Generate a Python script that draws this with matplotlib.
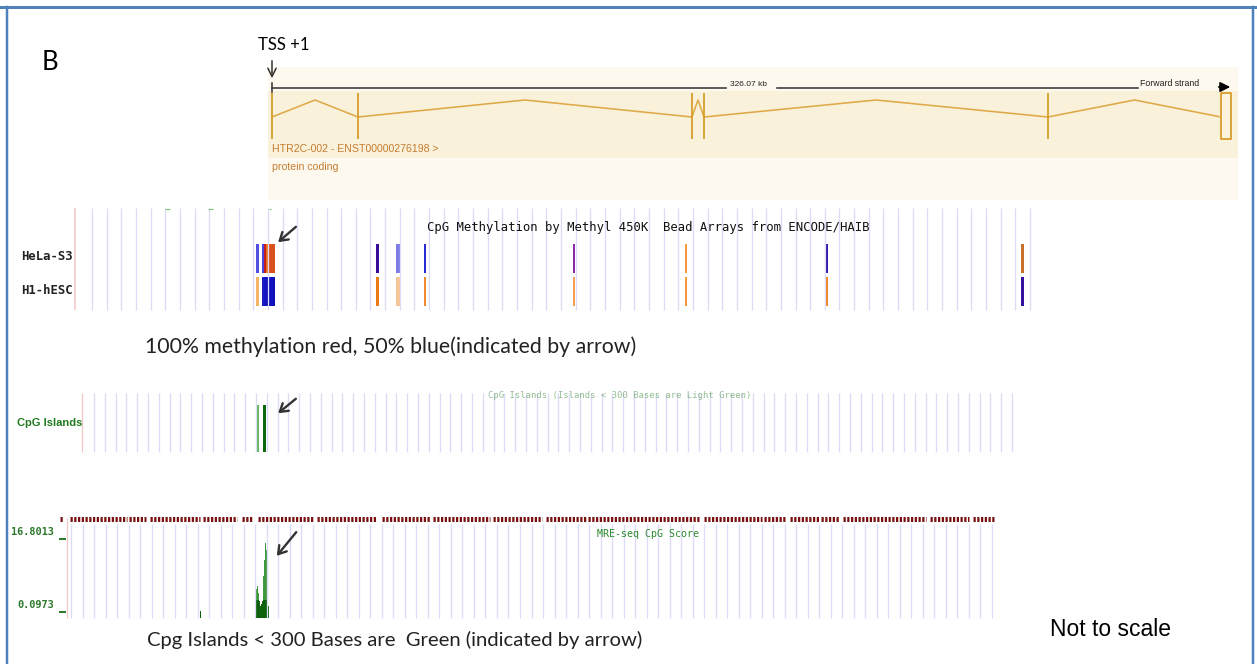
import numpy as np
import matplotlib
matplotlib.use("Agg")
import matplotlib.pyplot as plt

W, H = 1257, 664
PX = 0.72          # points per pixel at dpi=100

CAPTION_FONT = ["Lato", "DejaVu Sans"]
MONO_FONT = ["DejaVu Sans Mono"]
NARROW_FONT = ["Liberation Sans Narrow", "Liberation Sans"]

# ── Ensembl gene model (pixel positions along the panel) ─────────────────────
exon_x = [272, 358, 692, 704, 1048]
last_exon = [1221, 1231]
intron_start = [272, 358, 692, 704, 1048]
intron_end = [358, 692, 704, 1048, 1221]
scale_label = "326.07 kb"
gene_label = "HTR2C-002 - ENST00000276198 >"
biotype = "protein coding"

# ── CpG methylation (450K) features: left edge, width, colour per cell line ──
meth_left = [256, 261.5, 263.5, 266, 269, 376, 395.5, 424, 573, 685, 825, 1021]
meth_width = [2.5, 2, 2.5, 3, 6, 3, 4, 1.5, 2, 1.5, 2.5, 3]
hela_colors = ["#5050e0", "#4848e0", "#c81e1e", "#e8701c", "#d9501c", "#3a0c9a",
               "#7c7ce6", "#2a2ad2", "#8a2aa8", "#f49a3c", "#3414b0", "#c8702a"]
h1_colors = ["#f6b466", "#1c1cc6", "#1414c0", "#1010bc", "#1010bc", "#ee7a14",
             "#f6c496", "#f08a30", "#f4a050", "#f49a3c", "#ee8420", "#34109e"]
cell_lines = ["HeLa-S3", "H1-hESC"]

# ── CpG islands ──────────────────────────────────────────────────────────────
island_x = [257, 263]
island_w = [2, 2.5]
island_colors = ["#5cb85c", "#0b6a0b"]

# ── MRE-seq CpG score ────────────────────────────────────────────────────────
mre_x = [200, 256, 257, 258, 259, 260, 261, 262, 263, 264, 265, 266, 267, 268, 405]
mre_score = [0.4, 5.4, 6.1, 4.5, 2.6, 1.5, 1.9, 2.6, 8.4, 11.9, 15.9, 14.2, 9.6, 1.5, 0.5]
mre_ticks = ["16.8013", "0.0973"]
mre_tick_vals = [16.8013, 0.0973]
# dense dark-red marks along the top of the MRE track (start, end)
red_runs = [(60, 63), (70, 127), (129, 146), (150, 200), (203, 237), (242, 253),
            (258, 313), (317, 377), (382, 430), (433, 490), (493, 542), (546, 586),
            (588, 700), (704, 762), (764, 785), (790, 819), (821, 839), (843, 926),
            (930, 969), (973, 995)]


def score_y(v):
    # 16.8013 sits at y=539, 0.0973 at y=612
    return 612 - (np.asarray(v) - 0.0973) * (612 - 539) / (16.8013 - 0.0973)


fig = plt.figure(figsize=(W / 100, H / 100), dpi=100)
ax = fig.add_axes([0, 0, 1, 1])
ax.set_xlim(0, W)
ax.set_ylim(H, 0)
ax.axis("off")

# frame of the figure panel
ax.plot([0, W], [6.5, 6.5], color="#4f81bd", lw=3 * PX)
ax.plot([7, 7], [6.5, H], color="#4f81bd", lw=2.5 * PX)
ax.plot([1253, 1253], [6.5, H], color="#4f81bd", lw=2.5 * PX)

ax.text(50, 63, "B", fontsize=18.5, family=CAPTION_FONT, ha="center", va="center")
ax.text(258, 45, "TSS +1", fontsize=12, family=CAPTION_FONT, ha="left", va="center")
ax.annotate("", xy=(272, 81), xytext=(272, 58),
            arrowprops=dict(arrowstyle="->,head_length=0.6,head_width=0.3",
                            color="#333333", lw=1.1))

# Ensembl panel background
ax.fill_between([268, 1238], 67, 200, color="#fdf9ee", lw=0)
ax.fill_between([268, 1238], 91, 158, color="#faf1da", lw=0)

# scale bar
ax.plot([272, 726], [88, 88], color="#3a3a3a", lw=1.6 * PX)
ax.plot([272, 272], [83, 92], color="#3a3a3a", lw=1.6 * PX)
ax.text(749, 84, scale_label, fontsize=6, family=NARROW_FONT, ha="center", va="center",
        color="#222222")
ax.plot([777, 1138], [88, 88], color="#3a3a3a", lw=1.6 * PX)
ax.text(1140, 84, "Forward strand", fontsize=6.3, family=NARROW_FONT, ha="left",
        va="center", color="#222222")
ax.annotate("", xy=(1233, 87), xytext=(1216, 87),
            arrowprops=dict(arrowstyle="-|>,head_length=0.6,head_width=0.3",
                            color="black", lw=1.2))

# gene model
exon_col = "#d99c2b"
for x0, x1 in zip(intron_start, intron_end):
    ax.plot([x0, (x0 + x1) / 2, x1], [117, 100, 117], color="#deaa48", lw=1.6 * PX)
ax.vlines(exon_x, 93, 139, color=exon_col, lw=1.8 * PX)
ax.fill_between(last_exon, 93, 139, facecolor="#fbf3de", edgecolor=exon_col, lw=1.8 * PX)
ax.text(272, 149, gene_label, fontsize=7.6, family=NARROW_FONT, color="#c57d30",
        ha="left", va="center")
ax.text(272, 167, biotype, fontsize=7.6, family=NARROW_FONT, color="#c57d30",
        ha="left", va="center")

# ── methylation track ────────────────────────────────────────────────────────
grid_col = "#dcdcf8"
ax.vlines(np.linspace(92, 1030, 65), 208, 310, color=grid_col, lw=1.3 * PX)
ax.vlines([75], 208, 310, color="#f5c4c4", lw=1.5 * PX)
ax.hlines([209, 209, 209], [165, 208, 269], [170, 213, 271], color="#7acb7a", lw=1.2 * PX)
ax.text(648, 228, "CpG Methylation by Methyl 450K  Bead Arrays from ENCODE/HAIB",
        fontsize=8.8, family=MONO_FONT, ha="center", va="center", color="#111111")
for i, name in enumerate(cell_lines):
    ax.text(73, 257 + 33 * i, name, fontsize=8.8, family=MONO_FONT, weight="bold",
            ha="right", va="center", color="#222222")
ax.bar(meth_left, 29, width=meth_width, bottom=244, align="edge", color=hela_colors, lw=0)
ax.bar(meth_left, 29, width=meth_width, bottom=277, align="edge", color=h1_colors, lw=0)

arrow_kw = dict(arrowstyle="->,head_length=0.55,head_width=0.35", color="#333333", lw=1.7)
ax.annotate("", xy=(276, 244), xytext=(298, 225), arrowprops=arrow_kw)

ax.text(145, 347, "100% methylation red, 50% blue(indicated by arrow)", fontsize=15.3,
        family=CAPTION_FONT, ha="left", va="center", color="#222222")

# ── CpG islands track ────────────────────────────────────────────────────────
ax.vlines(np.linspace(94, 1012, 86), 393, 452, color=grid_col, lw=1.3 * PX)
ax.vlines([82], 393, 452, color="#f5c4c4", lw=1.2 * PX)
ax.text(50, 423, "CpG Islands", fontsize=8, family=NARROW_FONT, color="#1f7a1f",
        ha="center", va="center", weight="bold")
ax.text(620, 396, "CpG Islands (Islands < 300 Bases are Light Green)", fontsize=6.4,
        family=MONO_FONT, color="#3a8a3a", alpha=0.55, ha="center", va="center")
ax.bar(island_x, 47, width=island_w, bottom=405, align="edge", color=island_colors, lw=0)
ax.annotate("", xy=(276, 415), xytext=(298, 397), arrowprops=arrow_kw)

# ── MRE-seq track ────────────────────────────────────────────────────────────
ax.vlines(np.linspace(71, 992, 81), 524, 618, color=grid_col, lw=1.3 * PX)
ax.vlines([67], 518, 618, color="#f5c4c4", lw=1.2 * PX)
for s, e in red_runs:
    ax.plot([s, e], [519, 519], color="#7a1212", lw=5 * PX, solid_capstyle="butt",
            linestyle=(0, (0.45, 0.3)))
for lab, v in zip(mre_ticks, mre_tick_vals):
    ty = float(score_y(v))
    ax.text(54, ty - 7, lab, fontsize=7.4, family=MONO_FONT, weight="bold",
            color="#2c7a2c", ha="right", va="center")
    ax.plot([60, 65], [ty, ty], color="#2c7a2c", lw=2 * PX)
ax.text(648, 534, "MRE-seq CpG Score", fontsize=7.2, family=MONO_FONT, color="#2c8a2c",
        ha="center", va="center")
tops = score_y(mre_score)
ax.bar(mre_x, 618 - tops, width=1.2, bottom=tops, align="edge", color="#3f9a3f", lw=0)
low = np.minimum(618 - tops, 18)
ax.bar(mre_x, low, width=1.2, bottom=618 - low, align="edge", color="#0e620e", lw=0)
ax.annotate("", xy=(275, 558), xytext=(298, 530), arrowprops=arrow_kw)

ax.text(147, 640, "Cpg Islands < 300 Bases are  Green (indicated by arrow)", fontsize=14.6,
        family=CAPTION_FONT, ha="left", va="center", color="#222222")
ax.text(1050, 630, "Not to scale", fontsize=16.5, family=["Liberation Sans"], ha="left",
        va="center", color="black")

fig.savefig("out.png", dpi=100)
